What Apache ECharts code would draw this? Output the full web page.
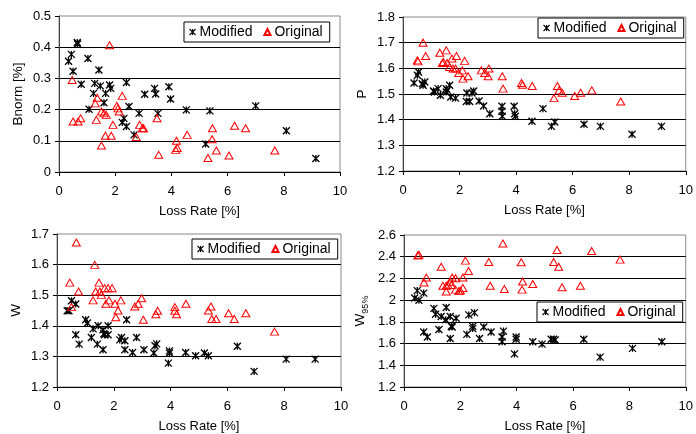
<!DOCTYPE html>
<html>
<head>
<meta charset="utf-8">
<style>
  html, body { margin: 0; padding: 0; background: #fff; }
  #chart { width: 696px; height: 434px; }
</style>
<script src="https://cdn.jsdelivr.net/npm/echarts@6/dist/echarts.min.js"></script>
</head>
<body>
<div id="chart"></div>
<script>
// Loss rate (x) and metric (y) per experiment, for each panel and protocol variant.
const bnormModX = [0.34,0.44,0.65,0.66,0.50,0.79,1.03,1.07,1.23,1.27,1.42,1.47,1.60,1.66,1.80,1.84,2.25,2.31,2.40,2.40,2.49,2.67,2.85,3.05,3.40,3.44,3.52,3.91,3.97,4.53,5.37,5.22,7.00,8.09,9.14];
const bnormModY = [0.355,0.377,0.415,0.410,0.323,0.281,0.364,0.201,0.252,0.284,0.327,0.276,0.222,0.252,0.279,0.268,0.159,0.172,0.146,0.287,0.210,0.119,0.188,0.249,0.268,0.250,0.188,0.273,0.234,0.199,0.196,0.090,0.212,0.132,0.043];
const bnormOrigX = [0.47,0.50,0.68,0.77,1.80,1.33,1.29,1.36,1.51,1.51,1.60,1.68,1.65,1.86,1.92,2.06,2.10,2.14,2.25,2.75,2.87,2.97,3.01,3.49,3.55,4.18,4.15,4.21,4.56,5.46,5.45,5.30,5.60,6.05,6.25,6.64,7.68];
const bnormOrigY = [0.295,0.162,0.162,0.172,0.406,0.167,0.220,0.238,0.085,0.194,0.188,0.183,0.116,0.116,0.151,0.212,0.204,0.194,0.244,0.112,0.151,0.140,0.140,0.172,0.055,0.100,0.071,0.077,0.119,0.140,0.105,0.045,0.069,0.053,0.148,0.140,0.069];

const pModX = [0.39,0.51,0.55,0.68,0.77,0.71,1.08,1.11,1.24,1.32,1.53,1.53,1.56,1.65,1.69,1.86,2.26,2.24,2.36,2.50,2.44,2.69,2.85,3.07,3.50,3.50,3.51,3.93,3.95,3.97,4.56,4.95,5.25,5.37,6.40,6.98,8.10,9.14];
const pModY = [1.543,1.573,1.586,1.540,1.547,1.534,1.512,1.508,1.521,1.495,1.508,1.521,1.515,1.534,1.488,1.484,1.504,1.471,1.471,1.512,1.504,1.473,1.453,1.423,1.452,1.433,1.413,1.452,1.423,1.413,1.394,1.443,1.374,1.391,1.382,1.374,1.343,1.374];
const pOrigX = [0.51,0.53,0.71,0.80,1.30,1.39,1.43,1.53,1.56,1.65,1.73,1.77,1.89,1.86,1.97,2.10,2.12,2.18,2.30,2.77,2.89,3.04,3.01,3.51,3.54,4.19,4.23,4.57,5.46,5.52,5.63,5.34,6.07,6.28,6.68,7.70];
const pOrigY = [1.631,1.627,1.700,1.648,1.661,1.621,1.625,1.670,1.621,1.605,1.638,1.599,1.648,1.599,1.582,1.592,1.560,1.629,1.569,1.592,1.582,1.599,1.569,1.569,1.521,1.543,1.536,1.531,1.531,1.514,1.505,1.484,1.492,1.505,1.514,1.471];

const wModX = [0.36,0.42,0.51,0.66,0.66,0.78,1.01,1.07,1.21,1.27,1.45,1.42,1.62,1.65,1.68,1.62,1.80,1.80,2.21,2.27,2.39,2.39,2.45,2.66,2.80,3.06,3.41,3.45,3.51,3.92,3.96,3.96,4.53,4.88,5.19,5.33,6.35,6.94,8.07,9.09];
const wModY = [1.449,1.449,1.482,1.471,1.371,1.340,1.420,1.409,1.362,1.390,1.400,1.340,1.387,1.374,1.371,1.322,1.400,1.371,1.354,1.362,1.351,1.322,1.420,1.313,1.362,1.322,1.311,1.335,1.341,1.278,1.318,1.311,1.313,1.302,1.311,1.302,1.333,1.251,1.291,1.291];
const wOrigX = [0.45,0.51,0.68,0.76,1.27,1.33,1.36,1.48,1.51,1.56,1.68,1.72,1.80,1.83,1.94,2.04,2.07,2.15,2.25,2.74,2.86,2.98,3.04,3.48,3.54,4.15,4.15,4.21,4.54,5.33,5.42,5.45,5.60,6.04,6.24,6.65,7.66];
const wOrigY = [1.541,1.461,1.672,1.512,1.483,1.599,1.512,1.541,1.512,1.501,1.523,1.472,1.523,1.483,1.523,1.472,1.428,1.450,1.483,1.463,1.472,1.490,1.420,1.438,1.449,1.461,1.449,1.438,1.472,1.450,1.463,1.422,1.422,1.441,1.422,1.441,1.381];

const w95ModX = [0.38,0.47,0.53,0.70,0.70,0.83,1.06,1.12,1.24,1.32,1.50,1.48,1.64,1.64,1.68,1.71,1.85,2.23,2.30,2.44,2.44,2.50,2.68,2.83,3.09,3.48,3.48,3.53,3.92,3.98,3.98,4.57,4.90,5.22,5.31,5.37,6.38,6.96,8.11,9.15];
const w95ModY = [2.020,2.088,1.999,2.065,1.706,1.661,1.924,1.870,1.730,1.849,1.933,1.819,1.849,1.646,1.759,1.753,1.834,1.685,1.864,1.738,1.759,1.885,1.646,1.753,1.706,1.661,1.616,1.715,1.505,1.661,1.640,1.616,1.595,1.640,1.640,1.634,1.640,1.475,1.556,1.616];
const w95OrigX = [0.49,0.53,0.71,0.79,1.32,1.38,1.50,1.50,1.56,1.64,1.68,1.71,1.83,1.83,1.95,2.00,2.09,2.09,2.18,2.29,3.01,3.06,3.51,3.56,4.16,4.21,4.19,4.57,5.43,5.31,5.49,5.61,6.26,6.66,7.67];
const w95OrigY = [2.412,2.418,2.163,2.208,2.307,2.133,2.080,2.133,2.139,2.169,2.139,2.208,2.202,2.097,2.083,2.088,2.208,2.112,2.364,2.268,2.352,2.133,2.522,2.103,2.349,2.172,2.097,2.148,2.462,2.352,2.307,2.118,2.133,2.453,2.373];

// Axis ranges per panel
const xRange = { min: 0, max: 10, interval: 2 };
const yRanges = [
  { min: 0,   max: 0.5, interval: 0.1 },
  { min: 1.2, max: 1.8, interval: 0.1 },
  { min: 1.2, max: 1.7, interval: 0.1 },
  { min: 1.2, max: 2.6, interval: 0.2 }
];
const yNames = ['Bnorm [%]', 'P', 'W', '{w|W}{s|95%}'];
const xName = 'Loss Rate [%]';
const seriesNames = ['Modified', 'Original'];

const FONT = 'Liberation Sans, Arial, sans-serif';
const STAR = 'path://M0,0L8,8M8,0L0,8M4,0L4,8';

function pairs(xs, ys) { return xs.map((x, i) => [x, ys[i]]); }

const grids = [
  { left: 59,  top: 16,  width: 281, height: 156 },
  { left: 403, top: 17,  width: 283, height: 154 },
  { left: 57,  top: 234, width: 284, height: 153 },
  { left: 404, top: 235, width: 283, height: 156 }
].map(g => Object.assign({ show: true, borderColor: '#888', borderWidth: 1, backgroundColor: 'transparent' }, g));

const legendPos = [
  { left: 184, top: 22 },
  { left: 538, top: 18 },
  { left: 192, top: 239 },
  { left: 537, top: 302 }
];

const xAxes = grids.map((g, i) => ({
  type: 'value', gridIndex: i, min: xRange.min, max: xRange.max, interval: xRange.interval,
  name: xName, nameLocation: 'middle', nameGap: 33,
  nameTextStyle: { fontFamily: FONT, fontSize: 13, color: '#000' },
  axisLine: { show: true, lineStyle: { color: '#000', width: 1 } },
  axisTick: { show: true, length: 4, lineStyle: { color: '#000' } },
  axisLabel: { fontFamily: FONT, fontSize: 13, color: '#000', margin: 13 },
  splitLine: { show: false }
}));

const yAxes = grids.map((g, i) => ({
  type: 'value', gridIndex: i, min: yRanges[i].min, max: yRanges[i].max, interval: yRanges[i].interval,
  name: yNames[i], nameLocation: 'middle', nameGap: 34, nameRotate: 90,
  nameTextStyle: {
    fontFamily: FONT, fontSize: 13.5, color: '#000',
    rich: {
      w: { fontFamily: FONT, fontSize: 13.5, color: '#000', lineHeight: 20, verticalAlign: 'middle' },
      s: { fontFamily: FONT, fontSize: 9, color: '#000', lineHeight: 20, verticalAlign: 'bottom' }
    }
  },
  axisLine: { show: true, lineStyle: { color: '#444', width: 1 } },
  axisTick: { show: true, length: 4, lineStyle: { color: '#000' } },
  axisLabel: { fontFamily: FONT, fontSize: 13, color: '#000', margin: 8 },
  splitLine: { show: true, showMinLine: false, showMaxLine: false, lineStyle: { color: '#000', width: 1 } }
}));

const panelData = [
  [pairs(bnormModX, bnormModY), pairs(bnormOrigX, bnormOrigY)],
  [pairs(pModX, pModY), pairs(pOrigX, pOrigY)],
  [pairs(wModX, wModY), pairs(wOrigX, wOrigY)],
  [pairs(w95ModX, w95ModY), pairs(w95OrigX, w95OrigY)]
];

const series = [];
panelData.forEach((pd, i) => {
  series.push({
    name: seriesNames[0], type: 'scatter', xAxisIndex: i, yAxisIndex: i,
    symbol: STAR, symbolSize: 7, data: pd[0],
    itemStyle: { color: 'transparent', borderColor: '#000', borderWidth: 1.3, opacity: 1 },
    emphasis: { disabled: true }, silent: true
  });
  series.push({
    name: seriesNames[1], type: 'scatter', xAxisIndex: i, yAxisIndex: i,
    symbol: 'triangle', symbolSize: [8, 7], data: pd[1],
    itemStyle: { color: 'transparent', borderColor: '#ff0000', borderWidth: 1, opacity: 1 },
    emphasis: { disabled: true }, silent: true
  });
});

const legends = legendPos.map(p => ({
  left: p.left, top: p.top, orient: 'horizontal',
  data: [
    { name: seriesNames[0], itemStyle: { borderWidth: 1.1 } },
    { name: seriesNames[1] }
  ],
  backgroundColor: '#fff', borderColor: '#000', borderWidth: 1,
  padding: [3, 7, 3, 5], itemGap: 11, itemWidth: 6, itemHeight: 6,
  selectedMode: false,
  textStyle: { fontFamily: FONT, fontSize: 14, color: '#000', padding: [0, 0, 0, -1] }
}));

const chart = echarts.init(document.getElementById('chart'), null, { renderer: 'canvas' });
chart.setOption({
  animation: false,
  backgroundColor: '#fff',
  grid: grids,
  xAxis: xAxes,
  yAxis: yAxes,
  legend: legends,
  series: series
});
</script>
</body>
</html>
